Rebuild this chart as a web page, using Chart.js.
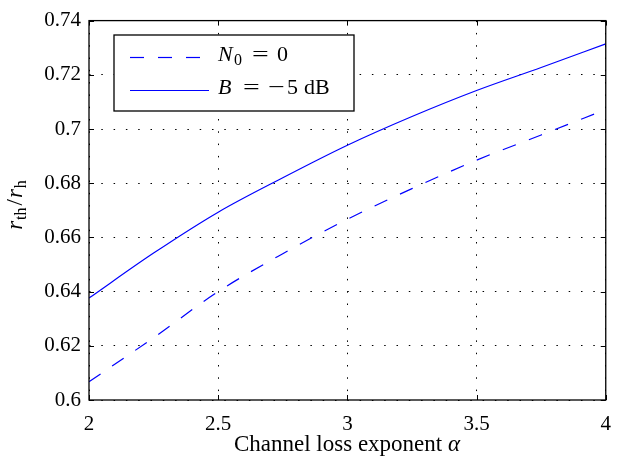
<!DOCTYPE html>
<html lang="en">
<head>
<meta charset="UTF-8">
<title>r_th / r_h vs channel loss exponent</title>
<script src="https://cdn.jsdelivr.net/npm/chart.js@4.4.0/dist/chart.umd.min.js"></script>
<style>
    html, body { margin: 0; padding: 0; background: #fff; }
    #wrap { width: 623px; height: 458px; }
</style>
</head>
<body>
<div id="wrap"><canvas id="ratioChart" width="623" height="458"></canvas></div>
<script>
// values
const alphaValues = [2, 2.25, 2.5, 2.75, 3, 3.25, 3.5, 3.75, 4];
const ratioNoNoise = [0.6067, 0.6230, 0.6400, 0.6540, 0.6667, 0.6780, 0.6885, 0.6978, 0.7072];
const ratioMinus5dB = [0.6376, 0.6542, 0.6693, 0.6820, 0.6940, 0.7046, 0.7142, 0.7227, 0.7314];

const xTicks = [2, 2.5, 3, 3.5, 4];
const xTickLabels = ['2', '2.5', '3', '3.5', '4'];
const yTicks = [0.6, 0.62, 0.64, 0.66, 0.68, 0.7, 0.72, 0.74];
const yTickLabels = ['0.6', '0.62', '0.64', '0.66', '0.68', '0.7', '0.72', '0.74'];

const SERIF = '"Liberation Serif", "Times New Roman", serif';
const BLUE = '#0000ff';

function toPoints(ys) {
    return alphaValues.map((a, i) => ({ x: a, y: ys[i] }));
}

// draws a run of text pieces (for italics / subscripts), returns width
// "at" places a piece at that offset from x, "sx" stretches it horizontally
function drawPieces(ctx, x, y, pieces, measureOnly) {
    let cx = x;
    pieces.forEach(p => {
        ctx.font = p.font;
        if (p.at !== undefined) cx = x + p.at;
        const sx = p.sx || 1;
        if (!measureOnly) {
            ctx.save();
            ctx.translate(cx, y + (p.dy || 0));
            ctx.scale(sx, 1);
            ctx.fillText(p.t, 0, 0);
            ctx.restore();
        }
        cx += ctx.measureText(p.t).width * sx + (p.gap || 0);
    });
    return cx - x;
}

const framePlugin = {
    id: 'frame',
    afterDraw(chart) {
        const ctx = chart.ctx;
        const a = chart.chartArea;
        const xs = chart.scales.x, ys = chart.scales.y;
        ctx.save();
        ctx.strokeStyle = '#000';
        ctx.fillStyle = '#000';
        ctx.setLineDash([]);

        // inner tick marks
        ctx.lineWidth = 1;
        ctx.beginPath();
        xTicks.forEach(v => {
            const px = Math.round(xs.getPixelForValue(v)) + 0.5;
            ctx.moveTo(px, a.bottom); ctx.lineTo(px, a.bottom - 5);
            ctx.moveTo(px, a.top); ctx.lineTo(px, a.top + 5);
        });
        yTicks.forEach(v => {
            const py = Math.round(ys.getPixelForValue(v)) + 0.5;
            ctx.moveTo(a.left, py); ctx.lineTo(a.left + 5, py);
            ctx.moveTo(a.right, py); ctx.lineTo(a.right - 5, py);
        });
        ctx.stroke();

        // axes box
        ctx.lineWidth = 1.3;
        ctx.strokeRect(a.left, a.top, a.right - a.left, a.bottom - a.top);

        // x title
        ctx.textBaseline = 'alphabetic';
        const xt = [
            { t: 'Channel loss exponent ', font: '23px ' + SERIF },
            { t: 'α', font: 'italic 23px ' + SERIF }
        ];
        const xw = drawPieces(ctx, 0, 0, xt, true);
        drawPieces(ctx, 347 - xw / 2, 451, xt);

        // y title, rotated
        const yt = [
            { t: 'r', font: 'italic 23px ' + SERIF, gap: 1 },
            { t: 'th', font: '16px ' + SERIF, dy: 4, gap: 2 },
            { t: '/', font: '23px ' + SERIF, gap: 1 },
            { t: 'r', font: 'italic 23px ' + SERIF, gap: 1 },
            { t: 'h', font: '16px ' + SERIF, dy: 4 }
        ];
        const yw = drawPieces(ctx, 0, 0, yt, true);
        ctx.save();
        ctx.translate(22, 205);
        ctx.rotate(-Math.PI / 2);
        drawPieces(ctx, -yw / 2, 0, yt);
        ctx.restore();

        // legend
        const lx = 114, ly = 35, lw = 240, lh = 76;
        ctx.fillStyle = '#fff';
        ctx.fillRect(lx, ly, lw, lh);
        ctx.lineWidth = 1.3;
        ctx.strokeRect(lx, ly, lw, lh);
        ctx.fillStyle = '#000';
        const rows = [
            { ds: chart.data.datasets[0], y: 57, base: 61, pieces: [
                { t: 'N', font: 'italic 22px ' + SERIF, at: 0 },
                { t: '0', font: '16px ' + SERIF, dy: 4, at: 16 },
                { t: '=', font: '22px ' + SERIF, at: 34, sx: 1.35 },
                { t: '0', font: '22px ' + SERIF, at: 59 }
            ] },
            { ds: chart.data.datasets[1], y: 90, base: 94, pieces: [
                { t: 'B', font: 'italic 22px ' + SERIF, at: 0 },
                { t: '=', font: '22px ' + SERIF, at: 25, sx: 1.35 },
                { t: '−', font: '22px ' + SERIF, at: 50, sx: 1.35 },
                { t: '5', font: '22px ' + SERIF, at: 69 },
                { t: 'dB', font: '22px ' + SERIF, at: 86 }
            ] }
        ];
        rows.forEach(r => {
            ctx.strokeStyle = r.ds.borderColor;
            ctx.lineWidth = r.ds.borderWidth;
            ctx.setLineDash(r.ds.borderDash || []);
            ctx.beginPath();
            ctx.moveTo(130, r.y + 0.5);
            ctx.lineTo(209, r.y + 0.5);
            ctx.stroke();
            ctx.setLineDash([]);
            drawPieces(ctx, 218, r.base, r.pieces);
        });
        ctx.restore();
    }
};

const ctx = document.getElementById('ratioChart').getContext('2d');
const ratioChart = new Chart(ctx, {
    type: 'line',
    data: {
        datasets: [
            {
                label: 'N0 = 0',
                data: toPoints(ratioNoNoise),
                borderColor: BLUE,
                borderWidth: 1.2,
                borderDash: [14, 14],
                fill: false,
                cubicInterpolationMode: 'monotone'
            },
            {
                label: 'B = -5 dB',
                data: toPoints(ratioMinus5dB),
                borderColor: BLUE,
                borderWidth: 1.2,
                fill: false,
                cubicInterpolationMode: 'monotone'
            }
        ]
    },
    options: {
        responsive: false,
        animation: false,
        layout: { padding: { top: 15, right: 14, left: 0, bottom: 0 } },
        elements: { point: { radius: 0 } },
        plugins: {
            legend: { display: false },
            tooltip: { enabled: false }
        },
        scales: {
            x: {
                type: 'linear',
                min: 2,
                max: 4,
                afterBuildTicks: s => { s.ticks = xTicks.map(v => ({ value: v })); },
                afterFit: s => { s.height = 58; },
                grid: { color: '#000', lineWidth: 1, drawTicks: false },
                border: { display: false, dash: [1.5, 10.8] },
                ticks: {
                    color: '#000',
                    font: { family: SERIF, size: 21 },
                    padding: 12,
                    maxRotation: 0,
                    autoSkip: false,
                    callback: (v, i) => xTickLabels[i]
                }
            },
            y: {
                min: 0.6,
                max: 0.74,
                afterBuildTicks: s => { s.ticks = yTicks.map(v => ({ value: v })); },
                afterFit: s => { s.width = 89; },
                grid: { color: '#000', lineWidth: 1, drawTicks: false },
                border: { display: false, dash: [1.5, 10.8] },
                ticks: {
                    color: '#000',
                    font: { family: SERIF, size: 21 },
                    padding: 8,
                    autoSkip: false,
                    callback: (v, i) => yTickLabels[i]
                }
            }
        }
    },
    plugins: [framePlugin]
});
</script>
</body>
</html>
